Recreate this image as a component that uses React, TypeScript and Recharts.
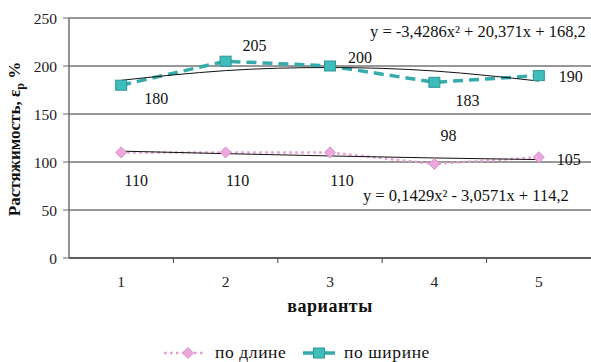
import React from "react";
import { LineChart, Line, XAxis, YAxis, CartesianGrid, Legend, LabelList } from "recharts";

const variants = [1, 2, 3, 4, 5];
const byLength = [110, 110, 110, 98, 105];
const byWidth = [180, 205, 200, 183, 190];
// polynomial trend values (match the printed equations)
const lengthTrend = [111.3, 108.7, 106.3, 104.2, 102.5];
const widthTrend = [185.1, 195.2, 198.4, 194.8, 184.3];
const yTicks = [0, 50, 100, 150, 200, 250];
const xTicks = [0.5, 1, 1.5, 2, 2.5, 3, 3.5, 4, 4.5, 5, 5.5];
const lengthEq = "y = 0,1429x\u00b2 - 3,0571x + 114,2";
const widthEq = "y = -3,4286x\u00b2 + 20,371x + 168,2";
const seriesNames = ["по длине", "по ширине"];

const data = variants.map((v, i) => ({
  v,
  len: byLength[i],
  wid: byWidth[i],
  lenT: lengthTrend[i],
  widT: widthTrend[i],
}));

const FONT = "Liberation Serif, Tinos, Times New Roman, DejaVu Serif, serif";
const TEAL = "#35abab";
const TEAL_FILL = "#3fbdbd";
const PINK = "#e79bd3";
const PINK_FILL = "#eba8dc";

// label offsets (style config)
const widLabelOff = [
  [35, 13],
  [29, -16],
  [30, -9],
  [33, 18],
  [32, 1],
];
const lenLabelOff = [
  [15, 28],
  [12, 28],
  [12, 28],
  [14, -28],
  [30, 2],
];

const makeLabel = (offs: number[][]) => (props: any) => {
  const { x, y, value, index } = props;
  const [dx, dy] = offs[index];
  return (
    <text x={x + dx} y={y + dy + 5.5} textAnchor="middle" style={{ fontFamily: FONT }} fontSize={16} fill="#111">
      {value}
    </text>
  );
};

const eqLabel = (text: string, dx: number, dy: number) => (props: any) => {
  const { x, y, index } = props;
  if (index !== 4) return null;
  return (
    <text x={x + dx} y={y + dy} textAnchor="end" style={{ fontFamily: FONT }} fontSize={16.5} fill="#111">
      {text}
    </text>
  );
};

const SquareDot = (props: any) => {
  const { cx, cy } = props;
  if (cx == null || cy == null) return null;
  return <rect x={cx - 5.5} y={cy - 5} width={11} height={10} fill={TEAL_FILL} stroke="#2a9797" strokeWidth={1} />;
};

const DiamondDot = (props: any) => {
  const { cx, cy } = props;
  if (cx == null || cy == null) return null;
  const r = 5.5;
  return (
    <polygon
      points={`${cx},${cy - r} ${cx + r},${cy} ${cx},${cy + r} ${cx - r},${cy}`}
      fill={PINK_FILL}
      stroke="#dc90c9"
      strokeWidth={1}
    />
  );
};

const XTick = (props: any) => {
  const { x, y, payload } = props;
  const v = payload.value;
  if (Number.isInteger(v)) {
    return (
      <text x={x} y={y + 29} textAnchor="middle" style={{ fontFamily: FONT }} fontSize={15.5} fill="#222">
        {v}
      </text>
    );
  }
  if (v === 0.5 || v === 5.5) return null;
  return <line x1={x} y1={y} x2={x} y2={y + 5} stroke="#444" strokeWidth={1} />;
};

const YTick = (props: any) => {
  const { x, y, payload } = props;
  return (
    <text x={x} y={y + 5.5} textAnchor="end" style={{ fontFamily: FONT }} fontSize={15.5} fill="#222">
      {payload.value}
    </text>
  );
};

const YLabel = () => (
  <text
    transform="translate(20,139) rotate(-90)"
    textAnchor="middle"
    style={{ fontFamily: FONT }}
    fontSize={17}
    fontWeight="bold"
    fill="#111"
  >
    Растяжимость, ε
    <tspan fontSize={12} dy={4}>р</tspan>
    <tspan dy={-4}> %</tspan>
  </text>
);

const LegendContent = () => (
  <div
    style={{
      display: "flex",
      justifyContent: "flex-start",
      alignItems: "center",
      fontFamily: FONT,
      fontSize: 17.5,
      letterSpacing: 0.6,
      color: "#111",
      paddingLeft: 163,
    }}
  >
    <svg width={40} height={14} style={{ marginRight: 12, flexShrink: 0 }}>
      <line x1={1} y1={7} x2={40} y2={7} stroke={PINK} strokeWidth={2.5} strokeDasharray="2.5 3.5" />
      <polygon points="25,1.5 30.5,7 25,12.5 19.5,7" fill={PINK_FILL} stroke="#dc90c9" />
    </svg>
    <span style={{ width: 88, flexShrink: 0 }}>{seriesNames[0]}</span>
    <svg width={32} height={14} style={{ marginRight: 9, flexShrink: 0 }}>
      <line x1={0} y1={7} x2={32} y2={7} stroke={TEAL} strokeWidth={3.5} />
      <rect x={10.5} y={2} width={11} height={10} fill={TEAL_FILL} stroke="#2a9797" />
    </svg>
    <span>{seriesNames[1]}</span>
  </div>
);

export default function App() {
  return (
    <div style={{ position: "absolute", left: 0, top: 0, width: 591, height: 362, background: "#fff", fontFamily: FONT }}>
      <LineChart width={591} height={362} data={data} margin={{ top: 18, right: 0, bottom: 74, left: 0 }}>
        <CartesianGrid horizontal vertical={false} stroke="#333" strokeWidth={1} />
        <XAxis
          dataKey="v"
          type="number"
          domain={[0.5, 5.5]}
          ticks={xTicks}
          interval={0}
          tick={<XTick />}
          tickLine={false}
          tickSize={0}
          tickMargin={0}
          height={30}
          axisLine={{ stroke: "#222", strokeWidth: 1.2 }}
          label={{
            value: "варианты",
            position: "insideBottom",
            offset: -24,
            style: { fontFamily: FONT, fontSize: 18, fontWeight: "bold", fill: "#111", letterSpacing: 0.5 },
          }}
        />
        <YAxis
          domain={[0, 250]}
          ticks={yTicks}
          width={69}
          tickSize={6}
          tickMargin={6}
          tick={<YTick />}
          tickLine={{ stroke: "#666" }}
          axisLine={{ stroke: "#6e6e6e", strokeWidth: 1.5 }}
          label={<YLabel />}
        />
        <Legend
          verticalAlign="middle"
          align="center"
          layout="horizontal"
          wrapperStyle={{ top: 342, left: 0, width: 591, margin: 0 }}
          content={<LegendContent />}
        />
        <Line
          dataKey="len"
          type="linear"
          stroke={PINK}
          strokeWidth={2.5}
          strokeDasharray="2.5 3.5"
          dot={<DiamondDot />}
          activeDot={false}
          isAnimationActive={false}
        >
          <LabelList dataKey="len" content={makeLabel(lenLabelOff)} />
        </Line>
        <Line
          dataKey="wid"
          type="linear"
          stroke={TEAL}
          strokeWidth={3.5}
          strokeDasharray="10 6"
          dot={<SquareDot />}
          activeDot={false}
          isAnimationActive={false}
        >
          <LabelList dataKey="wid" content={makeLabel(widLabelOff)} />
        </Line>
        <Line
          dataKey="lenT"
          type="natural"
          stroke="#111"
          strokeWidth={1}
          dot={false}
          activeDot={false}
          isAnimationActive={false}
        >
          <LabelList dataKey="lenT" content={eqLabel(lengthEq, 30, 41)} />
        </Line>
        <Line
          dataKey="widT"
          type="natural"
          stroke="#111"
          strokeWidth={1}
          dot={false}
          activeDot={false}
          isAnimationActive={false}
        >
          <LabelList dataKey="widT" content={eqLabel(widthEq, 47, -44)} />
        </Line>
      </LineChart>
    </div>
  );
}
